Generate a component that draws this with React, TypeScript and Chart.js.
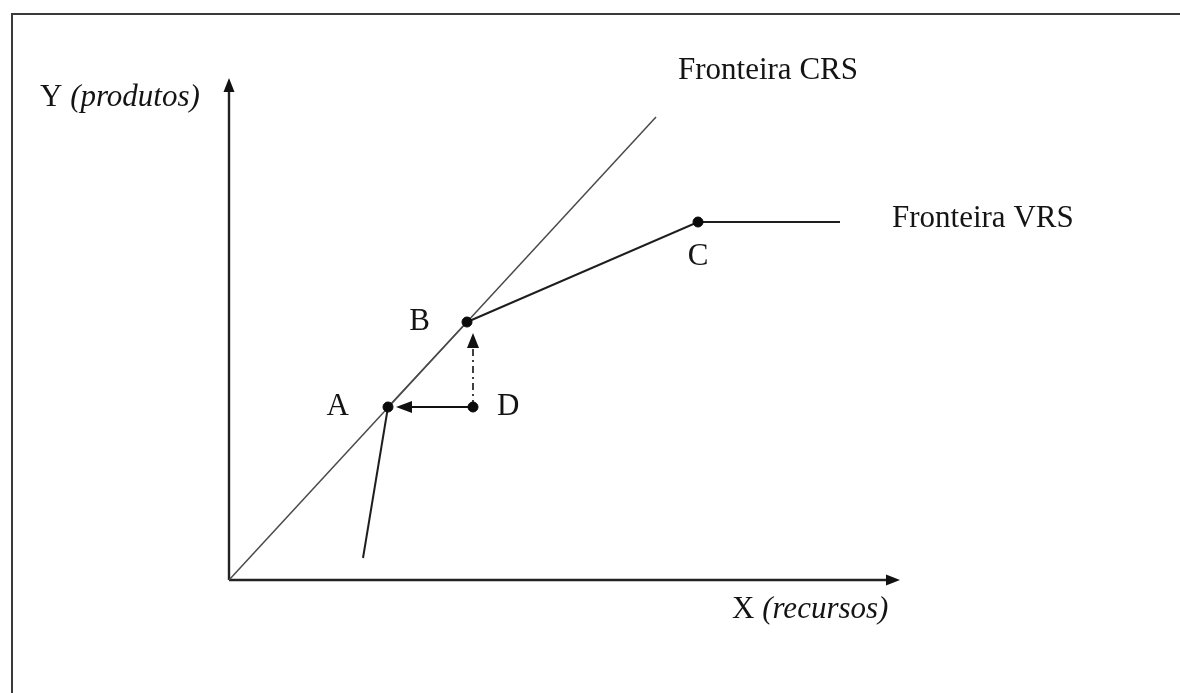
import React, { useEffect, useRef } from "react";
import { Chart, registerables } from "chart.js";

Chart.register(...registerables);

// DMU points (arbitrary units of inputs X and outputs Y)
const pointLabels = ["A", "B", "C", "D"];
const pointX = [15.9, 23.8, 46.9, 24.4];
const pointY = [17.3, 25.8, 35.8, 17.3];

// Constant returns to scale frontier (ray from origin)
const crsX = [0, 42.7];
const crsY = [0, 46.3];

// Variable returns to scale frontier
const vrsX = [13.4, 15.9, 23.8, 46.9, 61.1];
const vrsY = [2.2, 17.3, 25.8, 35.8, 35.8];

// Axis extents
const xAxisEnd = 67.1;
const yAxisEnd = 50.2;

// Projection arrows of D: input-oriented (to A) and output-oriented (to B)
const inputArrowTipX = 16.7;
const outputArrowTipY = 24.7;

const frontierLabels = ["Fronteira CRS", "Fronteira VRS"];
const axisLetters = ["X", "Y"];
const axisNames = ["(recursos)", "(produtos)"];

const FONT = '"Liberation Serif", "Times New Roman", serif';

function arrowHead(
  ctx: CanvasRenderingContext2D,
  tx: number,
  ty: number,
  dx: number,
  dy: number,
  len: number,
  half: number
) {
  const bx = tx - dx * len;
  const by = ty - dy * len;
  const nx = -dy;
  const ny = dx;
  ctx.beginPath();
  ctx.moveTo(tx, ty);
  ctx.lineTo(bx + nx * half, by + ny * half);
  ctx.lineTo(bx - nx * half, by - ny * half);
  ctx.closePath();
  ctx.fill();
}

function drawMixed(
  ctx: CanvasRenderingContext2D,
  x: number,
  y: number,
  normal: string,
  italic: string,
  size: number
) {
  ctx.font = `${size}px ${FONT}`;
  ctx.fillText(normal + " ", x, y);
  const w = ctx.measureText(normal + " ").width;
  ctx.font = `italic ${size}px ${FONT}`;
  ctx.fillText(italic, x + w, y);
}

const decorPlugin = {
  id: "decor",
  beforeDraw(chart: any) {
    const ctx = chart.ctx as CanvasRenderingContext2D;
    ctx.save();
    ctx.fillStyle = "#ffffff";
    ctx.fillRect(0, 0, chart.width, chart.height);
    // frame
    ctx.strokeStyle = "#3a3a3a";
    ctx.lineWidth = 2;
    ctx.beginPath();
    ctx.moveTo(12, chart.height + 5);
    ctx.lineTo(12, 14);
    ctx.lineTo(chart.width + 5, 14);
    ctx.stroke();
    ctx.restore();
  },
  afterDraw(chart: any) {
    const ctx = chart.ctx as CanvasRenderingContext2D;
    const xs = chart.scales.x;
    const ys = chart.scales.y;
    const px = (v: number) => xs.getPixelForValue(v);
    const py = (v: number) => ys.getPixelForValue(v);
    ctx.save();
    ctx.fillStyle = "#111111";

    // axis arrowheads
    arrowHead(ctx, px(0), py(yAxisEnd), 0, -1, 14, 5.5);
    arrowHead(ctx, px(xAxisEnd), py(0), 1, 0, 14, 5.5);
    // projection arrowheads
    arrowHead(ctx, px(inputArrowTipX), py(pointY[3]), -1, 0, 16, 6);
    arrowHead(ctx, px(pointX[3]), py(outputArrowTipY), 0, -1, 15, 6);

    // texts
    const size = 31;
    ctx.fillStyle = "#141414";
    ctx.textBaseline = "alphabetic";
    ctx.font = `${size}px ${FONT}`;

    // point labels
    const offs: Array<[number, number, CanvasTextAlign]> = [
      [-39, 8, "right"],
      [-37, 8, "right"],
      [0, 43, "center"],
      [24, 8, "left"],
    ];
    pointLabels.forEach((lab, i) => {
      ctx.textAlign = offs[i][2];
      ctx.fillText(lab, px(pointX[i]) + offs[i][0], py(pointY[i]) + offs[i][1]);
    });

    ctx.textAlign = "left";
    ctx.fillText(frontierLabels[0], px(crsX[1]) + 22, py(crsY[1]) - 38);
    ctx.fillText(
      frontierLabels[1],
      px(vrsX[vrsX.length - 1]) + 52,
      py(vrsY[vrsY.length - 1]) + 5
    );

    // axis titles
    drawMixed(ctx, px(0) - 189, py(yAxisEnd) + 28, axisLetters[1], axisNames[1], size);
    drawMixed(ctx, px(xAxisEnd) - 168, py(0) + 38, axisLetters[0], axisNames[0], size);

    ctx.restore();
  },
};

export default function App() {
  const ref = useRef<HTMLCanvasElement | null>(null);

  useEffect(() => {
    if (!ref.current) return;
    const pts = pointX.map((x, i) => ({ x, y: pointY[i] }));
    const chart = new Chart(ref.current, {
      type: "scatter",
      data: {
        datasets: [
          {
            label: "DMUs",
            data: pts,
            pointRadius: 5,
            pointBackgroundColor: "#0a0a0a",
            pointBorderColor: "#0a0a0a",
            showLine: false,
          },
          {
            label: "input",
            data: [
              { x: pointX[3], y: pointY[3] },
              { x: inputArrowTipX + 1, y: pointY[3] },
            ],
            showLine: true,
            borderColor: "#111111",
            borderWidth: 2,
            pointRadius: 0,
          },
          {
            label: "output",
            data: [
              { x: pointX[3], y: pointY[3] },
              { x: pointX[3], y: outputArrowTipY - 1 },
            ],
            showLine: true,
            borderColor: "#111111",
            borderWidth: 1.6,
            borderDash: [7, 4, 2, 4],
            pointRadius: 0,
          },
          {
            label: "VRS",
            data: vrsX.map((x, i) => ({ x, y: vrsY[i] })),
            showLine: true,
            borderColor: "#1e1e1e",
            borderWidth: 2,
            pointRadius: 0,
            segment: {
              borderColor: (c: any) => (c.p0DataIndex === 1 ? "#4a4a4a" : "#1e1e1e"),
              borderWidth: (c: any) => (c.p0DataIndex === 1 ? 1.5 : 2),
            },
          },
          {
            label: "CRS",
            data: crsX.map((x, i) => ({ x, y: crsY[i] })),
            showLine: true,
            borderColor: "#4a4a4a",
            borderWidth: 1.5,
            pointRadius: 0,
          },
          {
            label: "Xaxis",
            data: [
              { x: 0, y: 0 },
              { x: xAxisEnd - 1, y: 0 },
            ],
            showLine: true,
            borderColor: "#222222",
            borderWidth: 2.4,
            pointRadius: 0,
          },
          {
            label: "Yaxis",
            data: [
              { x: 0, y: 0 },
              { x: 0, y: yAxisEnd - 1 },
            ],
            showLine: true,
            borderColor: "#222222",
            borderWidth: 2.4,
            pointRadius: 0,
          },
        ],
      },
      options: {
        animation: false,
        responsive: false,
        devicePixelRatio: 1,
        layout: { padding: 0, autoPadding: false },
        plugins: {
          legend: { display: false },
          tooltip: { enabled: false },
          title: { display: false },
        },
        events: [],
        scales: {
          x: { type: "linear", min: -22.9, max: 95.1, display: false },
          y: { type: "linear", min: -11.3, max: 58.0, display: false },
        },
      },
      plugins: [decorPlugin],
    });
    return () => chart.destroy();
  }, []);

  return (
    <div style={{ position: "absolute", left: 0, top: 0, width: 1180, height: 693 }}>
      <canvas ref={ref} width={1180} height={693} style={{ display: "block" }} />
    </div>
  );
}
